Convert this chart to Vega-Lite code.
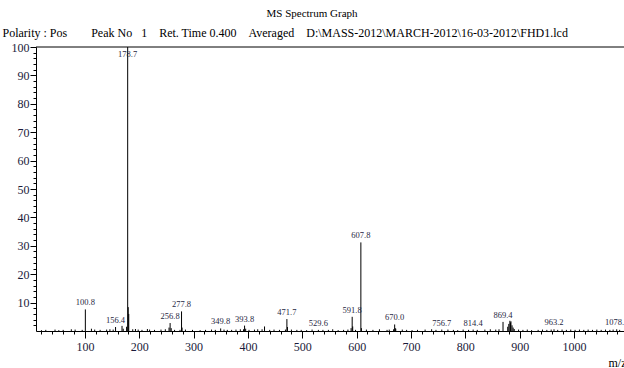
{
  "$schema": "https://vega.github.io/schema/vega-lite/v6.json",
  "autosize": "none",
  "padding": {"left": 36, "top": 47, "right": 0, "bottom": 37},
  "width": 588,
  "height": 284,
  "background": "white",
  "config": {
    "view": {"stroke": null},
    "font": "Liberation Serif",
    "axis": {"labelFont": "Liberation Serif", "titleFont": "Liberation Serif", "domainColor": "#000", "tickColor": "#000", "grid": false}
  },
  "title": {
    "text": "MS Spectrum Graph",
    "anchor": "middle",
    "frame": "group",
    "dx": -18,
    "offset": 7,
    "font": "Liberation Serif",
    "fontSize": 11,
    "fontWeight": "normal",
    "color": "#000"
  },
  "datasets": {
    "peaks": [
      {"mz": 100.8, "inten": 7.6, "labeled": true},
      {"mz": 156.4, "inten": 1.4, "labeled": true},
      {"mz": 178.7, "inten": 100, "labeled": true},
      {"mz": 256.8, "inten": 2.8, "labeled": true},
      {"mz": 277.8, "inten": 6.9, "labeled": true},
      {"mz": 349.8, "inten": 0.9, "labeled": true},
      {"mz": 393.8, "inten": 1.9, "labeled": true},
      {"mz": 471.7, "inten": 4.2, "labeled": true},
      {"mz": 529.6, "inten": 0.4, "labeled": true},
      {"mz": 591.8, "inten": 5.0, "labeled": true},
      {"mz": 607.8, "inten": 31.2, "labeled": true},
      {"mz": 670.0, "inten": 2.3, "labeled": true},
      {"mz": 756.7, "inten": 0.5, "labeled": true},
      {"mz": 814.4, "inten": 0.5, "labeled": true},
      {"mz": 869.4, "inten": 3.2, "labeled": true},
      {"mz": 963.2, "inten": 0.6, "labeled": true},
      {"mz": 1078.6, "inten": 0.6, "labeled": true},
      {"mz": 176.7, "inten": 1.5, "labeled": false},
      {"mz": 179.7, "inten": 8.4, "labeled": false},
      {"mz": 180.7, "inten": 6.0, "labeled": false},
      {"mz": 168.3, "inten": 1.8, "labeled": false},
      {"mz": 170.5, "inten": 0.8, "labeled": false},
      {"mz": 152.0, "inten": 0.5, "labeled": false},
      {"mz": 254.8, "inten": 1.2, "labeled": false},
      {"mz": 258.8, "inten": 1.0, "labeled": false},
      {"mz": 278.8, "inten": 1.2, "labeled": false},
      {"mz": 275.0, "inten": 0.4, "labeled": false},
      {"mz": 391.8, "inten": 0.6, "labeled": false},
      {"mz": 395.8, "inten": 0.8, "labeled": false},
      {"mz": 430.5, "inten": 1.6, "labeled": false},
      {"mz": 426.0, "inten": 0.6, "labeled": false},
      {"mz": 472.7, "inten": 1.4, "labeled": false},
      {"mz": 469.0, "inten": 0.5, "labeled": false},
      {"mz": 589.8, "inten": 1.0, "labeled": false},
      {"mz": 592.8, "inten": 1.6, "labeled": false},
      {"mz": 608.8, "inten": 1.0, "labeled": false},
      {"mz": 668.0, "inten": 0.6, "labeled": false},
      {"mz": 671.0, "inten": 1.0, "labeled": false},
      {"mz": 672.0, "inten": 0.8, "labeled": false},
      {"mz": 878.0, "inten": 1.5, "labeled": false},
      {"mz": 880.0, "inten": 2.5, "labeled": false},
      {"mz": 882.0, "inten": 3.6, "labeled": false},
      {"mz": 883.0, "inten": 3.0, "labeled": false},
      {"mz": 884.0, "inten": 3.4, "labeled": false},
      {"mz": 886.0, "inten": 2.0, "labeled": false},
      {"mz": 888.0, "inten": 1.2, "labeled": false},
      {"mz": 890.0, "inten": 0.7, "labeled": false},
      {"mz": 20, "inten": 0.3, "labeled": false},
      {"mz": 28, "inten": 0.4, "labeled": false},
      {"mz": 45, "inten": 0.5, "labeled": false},
      {"mz": 52, "inten": 0.3, "labeled": false},
      {"mz": 60, "inten": 0.4, "labeled": false},
      {"mz": 75, "inten": 0.6, "labeled": false},
      {"mz": 82, "inten": 0.5, "labeled": false},
      {"mz": 95, "inten": 0.4, "labeled": false},
      {"mz": 112, "inten": 0.8, "labeled": false},
      {"mz": 118, "inten": 0.5, "labeled": false},
      {"mz": 128, "inten": 0.4, "labeled": false},
      {"mz": 140, "inten": 0.5, "labeled": false},
      {"mz": 146, "inten": 0.6, "labeled": false},
      {"mz": 188, "inten": 0.6, "labeled": false},
      {"mz": 193, "inten": 0.7, "labeled": false},
      {"mz": 198, "inten": 0.5, "labeled": false},
      {"mz": 205, "inten": 0.4, "labeled": false},
      {"mz": 215, "inten": 0.7, "labeled": false},
      {"mz": 219, "inten": 0.5, "labeled": false},
      {"mz": 228, "inten": 0.4, "labeled": false},
      {"mz": 240, "inten": 0.5, "labeled": false},
      {"mz": 248, "inten": 0.6, "labeled": false},
      {"mz": 265, "inten": 0.4, "labeled": false},
      {"mz": 285, "inten": 0.5, "labeled": false},
      {"mz": 298, "inten": 0.4, "labeled": false},
      {"mz": 312, "inten": 0.3, "labeled": false},
      {"mz": 322, "inten": 0.4, "labeled": false},
      {"mz": 333, "inten": 0.5, "labeled": false},
      {"mz": 340, "inten": 0.4, "labeled": false},
      {"mz": 356, "inten": 0.5, "labeled": false},
      {"mz": 362, "inten": 0.4, "labeled": false},
      {"mz": 370, "inten": 0.4, "labeled": false},
      {"mz": 378, "inten": 0.5, "labeled": false},
      {"mz": 386, "inten": 0.6, "labeled": false},
      {"mz": 402, "inten": 0.4, "labeled": false},
      {"mz": 412, "inten": 0.5, "labeled": false},
      {"mz": 418, "inten": 0.6, "labeled": false},
      {"mz": 440, "inten": 0.4, "labeled": false},
      {"mz": 448, "inten": 0.5, "labeled": false},
      {"mz": 458, "inten": 0.4, "labeled": false},
      {"mz": 480, "inten": 0.5, "labeled": false},
      {"mz": 490, "inten": 0.4, "labeled": false},
      {"mz": 498, "inten": 0.4, "labeled": false},
      {"mz": 508, "inten": 0.3, "labeled": false},
      {"mz": 518, "inten": 0.5, "labeled": false},
      {"mz": 538, "inten": 0.4, "labeled": false},
      {"mz": 548, "inten": 0.4, "labeled": false},
      {"mz": 556, "inten": 0.6, "labeled": false},
      {"mz": 566, "inten": 0.3, "labeled": false},
      {"mz": 576, "inten": 0.4, "labeled": false},
      {"mz": 584, "inten": 0.5, "labeled": false},
      {"mz": 598, "inten": 0.4, "labeled": false},
      {"mz": 618, "inten": 0.5, "labeled": false},
      {"mz": 630, "inten": 0.4, "labeled": false},
      {"mz": 642, "inten": 0.6, "labeled": false},
      {"mz": 656, "inten": 0.4, "labeled": false},
      {"mz": 660, "inten": 0.5, "labeled": false},
      {"mz": 684, "inten": 0.5, "labeled": false},
      {"mz": 692, "inten": 0.4, "labeled": false},
      {"mz": 702, "inten": 0.3, "labeled": false},
      {"mz": 712, "inten": 0.4, "labeled": false},
      {"mz": 726, "inten": 0.5, "labeled": false},
      {"mz": 738, "inten": 0.6, "labeled": false},
      {"mz": 746, "inten": 0.4, "labeled": false},
      {"mz": 768, "inten": 0.5, "labeled": false},
      {"mz": 778, "inten": 0.4, "labeled": false},
      {"mz": 786, "inten": 0.3, "labeled": false},
      {"mz": 796, "inten": 0.5, "labeled": false},
      {"mz": 806, "inten": 0.4, "labeled": false},
      {"mz": 822, "inten": 0.4, "labeled": false},
      {"mz": 836, "inten": 0.5, "labeled": false},
      {"mz": 846, "inten": 0.6, "labeled": false},
      {"mz": 856, "inten": 0.5, "labeled": false},
      {"mz": 862, "inten": 0.6, "labeled": false},
      {"mz": 898, "inten": 0.5, "labeled": false},
      {"mz": 906, "inten": 0.4, "labeled": false},
      {"mz": 914, "inten": 0.5, "labeled": false},
      {"mz": 922, "inten": 0.3, "labeled": false},
      {"mz": 934, "inten": 0.4, "labeled": false},
      {"mz": 942, "inten": 0.5, "labeled": false},
      {"mz": 950, "inten": 0.4, "labeled": false},
      {"mz": 958, "inten": 0.5, "labeled": false},
      {"mz": 970, "inten": 0.4, "labeled": false},
      {"mz": 978, "inten": 0.5, "labeled": false},
      {"mz": 986, "inten": 0.4, "labeled": false},
      {"mz": 994, "inten": 0.5, "labeled": false},
      {"mz": 1002, "inten": 0.4, "labeled": false},
      {"mz": 1010, "inten": 0.5, "labeled": false},
      {"mz": 1018, "inten": 0.4, "labeled": false},
      {"mz": 1026, "inten": 0.5, "labeled": false},
      {"mz": 1034, "inten": 0.4, "labeled": false},
      {"mz": 1042, "inten": 0.5, "labeled": false},
      {"mz": 1050, "inten": 0.4, "labeled": false},
      {"mz": 1058, "inten": 0.5, "labeled": false},
      {"mz": 1066, "inten": 0.4, "labeled": false},
      {"mz": 1072, "inten": 0.5, "labeled": false},
      {"mz": 1084, "inten": 0.4, "labeled": false}
    ]
  },
  "data": {"name": "peaks"},
  "resolve": {"axis": {"x": "independent", "y": "independent"}},
  "layer": [
    {
      "description": "stick spectrum: one vertical line per peak",
      "mark": {"type": "rule", "color": "#000", "strokeWidth": 1},
      "encoding": {
        "x": {
          "field": "mz", "type": "quantitative",
          "scale": {"domain": [10, 1092], "nice": false, "zero": false},
          "axis": {
            "orient": "bottom", "title": null, "format": "d",
            "values": [100, 200, 300, 400, 500, 600, 700, 800, 900, 1000],
            "tickSize": 7, "labelFontSize": 12, "labelColor": "#1a1a3a",
            "labelPadding": 3, "domainWidth": 1
          }
        },
        "y": {
          "field": "inten", "type": "quantitative",
          "scale": {"domain": [0, 100], "nice": false},
          "axis": {
            "orient": "left", "title": null,
            "values": [10, 20, 30, 40, 50, 60, 70, 80, 90, 100],
            "tickSize": 6, "labelFontSize": 12, "labelColor": "#1a1a3a",
            "labelPadding": 1, "domainWidth": 1
          }
        },
        "y2": {"datum": 0}
      }
    },
    {
      "description": "top frame line at 100 %, carrying the minor intensity ticks and the run header",
      "data": {"values": [{}]},
      "mark": {"type": "rule", "color": "#000", "strokeWidth": 1},
      "encoding": {
        "y": {
          "datum": 100, "type": "quantitative",
          "axis": {
            "orient": "left", "labels": false, "domain": false,
            "values": [2, 4, 6, 8, 12, 14, 16, 18, 22, 24, 26, 28, 32, 34, 36, 38, 42, 44, 46, 48, 52, 54, 56, 58, 62, 64, 66, 68, 72, 74, 76, 78, 82, 84, 86, 88, 92, 94, 96, 98],
            "tickSize": 3,
            "title": "Polarity : Pos\u00a0\u00a0\u00a0\u00a0\u00a0\u00a0\u00a0\u00a0Peak No\u00a0\u00a0\u00a01\u00a0\u00a0\u00a0\u00a0Ret. Time 0.400\u00a0\u00a0\u00a0\u00a0Averaged\u00a0\u00a0\u00a0\u00a0D:\\MASS-2012\\MARCH-2012\\16-03-2012\\FHD1.lcd",
            "titleAngle": 0, "titleAlign": "left", "titleBaseline": "alphabetic",
            "titleX": -34, "titleY": -11, "titleFontSize": 12, "titleFontWeight": "normal", "titleColor": "#000"
          }
        }
      }
    },
    {
      "description": "m/z labels above the annotated peaks; also carries the minor m/z ticks",
      "transform": [{"filter": "datum.labeled && datum.inten < 100"}],
      "mark": {"type": "text", "baseline": "bottom", "dy": -2, "fontSize": 8.5, "font": "Liberation Serif", "color": "#1f1f3f"},
      "encoding": {
        "x": {
          "field": "mz", "type": "quantitative",
          "axis": {
            "orient": "bottom", "labels": false, "domain": false,
            "values": [20, 40, 60, 80, 120, 140, 160, 180, 220, 240, 260, 280, 320, 340, 360, 380, 420, 440, 460, 480, 520, 540, 560, 580, 620, 640, 660, 680, 720, 740, 760, 780, 820, 840, 860, 880, 920, 940, 960, 980, 1020, 1040, 1060, 1080],
            "tickSize": 3,
            "title": "m/z", "titleAnchor": null, "titleAlign": "left", "titleBaseline": "alphabetic",
            "titleX": 572, "titleY": 35, "titleFontSize": 12, "titleFontWeight": "normal", "titleColor": "#000"
          }
        },
        "y": {"field": "inten", "type": "quantitative", "axis": null},
        "text": {"field": "mz", "type": "quantitative", "format": ".1f"}
      }
    },
    {
      "description": "base peak label, tucked under the top frame line",
      "transform": [{"filter": "datum.labeled && datum.inten >= 100"}],
      "mark": {"type": "text", "baseline": "top", "dy": 3, "fontSize": 8.5, "font": "Liberation Serif", "color": "#1f1f3f"},
      "encoding": {
        "x": {"field": "mz", "type": "quantitative", "axis": null},
        "y": {"field": "inten", "type": "quantitative", "axis": null},
        "text": {"field": "mz", "type": "quantitative", "format": ".1f"}
      }
    }
  ]
}
